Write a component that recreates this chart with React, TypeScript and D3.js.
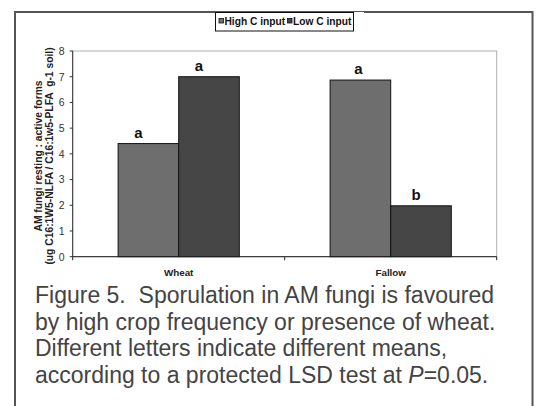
import React from "react";
import * as d3 from "d3";

const categories = ["Wheat", "Fallow"];
const seriesNames = ["High C input", "Low C input"];
const highC = [4.4, 6.87];
const lowC = [7.0, 1.98];
const letters = [
  ["a", "a"],
  ["a", "b"],
];
const letterDx = [
  [-10, -10],
  [-2, -5],
];
const yTicks = [0, 1, 2, 3, 4, 5, 6, 7, 8];
const yTitle = [
  "AM fungi resting : active forms",
  "(ug C16:1W5-NLFA / C16:1w5-PLFA  g-1 soil)",
];
const captionLines = [
  "Figure 5.  Sporulation in AM fungi is favoured",
  "by high crop frequency or presence of wheat.",
  "Different letters indicate different means,",
];
const colors = ["#6e6e6e", "#464646"];

const FONT = "'Liberation Sans', Arial, sans-serif";

export default function App() {
  const W = 541;
  const H = 406;
  const left = 72.7;
  const right = 496.7;
  const top = 51;
  const bottom = 256.7;

  const x0 = d3.scaleBand<string>().domain(categories).range([left, right]).paddingInner(0).paddingOuter(0);
  const x1 = d3
    .scaleBand<string>()
    .domain(seriesNames)
    .range([0, x0.bandwidth()])
    .paddingInner(0)
    .paddingOuter((x0.bandwidth() - 121.2) / 2 / (121.2 / 2));
  const y = d3.scaleLinear().domain([0, 8]).range([bottom, top]);

  const values = [highC, lowC];
  const pitch = 26.5;

  return (
    <svg
      width={W}
      height={H}
      style={{ position: "absolute", left: 0, top: 0, background: "#fff" }}
      fontFamily={FONT}
    >
      <rect x={0} y={0} width={W} height={H} fill="#fff" />
      {/* outer frame */}
      <rect x={15} y={12} width={517.5} height={410} fill="none" stroke="#555" strokeWidth={2} />

      {/* plot border */}
      <rect x={left} y={top} width={right - left} height={bottom - top} fill="none" stroke="#b0b0b0" strokeWidth={1} />

      {/* bars */}
      {categories.map((c, ci) =>
        seriesNames.map((s, si) => {
          const v = values[si][ci];
          const bx = (x0(c) ?? 0) + (x1(s) ?? 0);
          const bw = x1.bandwidth();
          return (
            <g key={c + s}>
              <rect
                x={bx}
                y={y(v)}
                width={bw}
                height={y(0) - y(v)}
                fill={colors[si]}
                stroke="#111"
                strokeWidth={1}
              />
              <text
                x={bx + bw / 2 + letterDx[ci][si]}
                y={y(v) - 6}
                textAnchor="middle"
                fontSize={15}
                fontWeight="bold"
                fill="#111"
              >
                {letters[ci][si]}
              </text>
            </g>
          );
        })
      )}

      {/* y axis */}
      <line x1={left} x2={left} y1={top} y2={bottom} stroke="#333" strokeWidth={1} />
      {yTicks.map((t) => (
        <g key={t}>
          <line x1={left - 3} x2={left} y1={y(t)} y2={y(t)} stroke="#333" />
          <text x={left - 8} y={y(t) + 3.8} textAnchor="end" fontSize={10.5} fill="#333">
            {t}
          </text>
        </g>
      ))}

      {/* x axis */}
      <line x1={left} x2={right} y1={bottom} y2={bottom} stroke="#222" strokeWidth={1} />
      {[...categories.map((c) => x0(c) ?? 0), right].map((xx, i) => (
        <line key={i} x1={xx} x2={xx} y1={bottom} y2={bottom + 3.5} stroke="#222" />
      ))}
      {categories.map((c) => (
        <text
          key={c}
          x={(x0(c) ?? 0) + x0.bandwidth() / 2}
          y={276}
          textAnchor="middle"
          fontSize={9.8}
          fontWeight="bold"
          fill="#222"
        >
          {c}
        </text>
      ))}

      {/* y title */}
      {yTitle.map((t, i) => (
        <text
          key={i}
          transform={`translate(${42 + i * 11},156) rotate(-90)`}
          textAnchor="middle"
          fontSize={10.3}
          fontWeight="bold"
          fill="#222"
          style={{ whiteSpace: "pre" }}
        >
          {t}
        </text>
      ))}

      {/* legend */}
      <rect x={215.5} y={12.5} width={138} height={18.5} fill="#fff" stroke="#111" strokeWidth={1} />
      {seriesNames.map((s, i) => {
        const lx = [219, 287.5][i];
        return (
          <g key={s}>
            <rect x={lx} y={18.5} width={4.5} height={4.5} fill={colors[i]} stroke="#111" strokeWidth={0.8} />
            <text x={lx + 5.5} y={25} fontSize={10.2} fontWeight="bold" fill="#111">
              {s}
            </text>
          </g>
        );
      })}
      <rect x={354} y={12} width={10} height={19} fill="#fff" />
      <line x1={353.5} x2={353.5} y1={12.5} y2={31} stroke="#111" />

      {/* caption */}
      {captionLines.map((t, i) => (
        <text key={i} x={35} y={303 + i * pitch} fontSize={23} fill="#444" style={{ whiteSpace: "pre" }}>
          {t}
        </text>
      ))}
      <text x={35} y={303 + 3 * pitch} fontSize={23} fill="#444">
        according to a protected LSD test at <tspan fontStyle="italic">P</tspan>=0.05.
      </text>
    </svg>
  );
}
